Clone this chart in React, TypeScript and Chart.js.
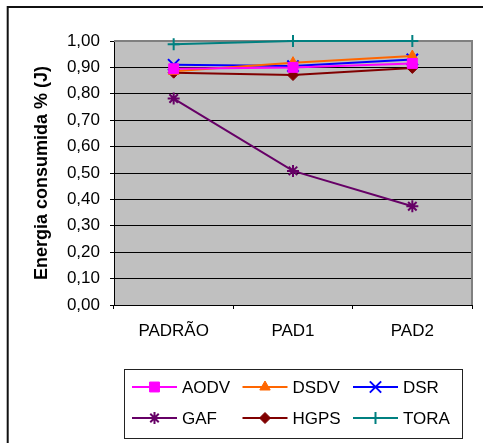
import React, { useEffect, useRef } from 'react';
import { Chart, registerables } from 'chart.js';
import { drawPoint } from 'chart.js/helpers';

Chart.register(...registerables);

const categories = ['PADRÃO', 'PAD1', 'PAD2'];
const seriesNames = ['AODV', 'DSDV', 'DSR', 'GAF', 'HGPS', 'TORA'];
const aodv = [0.895, 0.9, 0.915];
const dsdv = [0.885, 0.918, 0.943];
const dsr = [0.91, 0.905, 0.93];
const gaf = [0.782, 0.508, 0.374];
const hgps = [0.88, 0.871, 0.898];
const tora = [0.988, 1.0, 1.0];
const seriesValues = [aodv, dsdv, dsr, gaf, hgps, tora];
const seriesColors = ['#FF00FF', '#FF6600', '#0000FF', '#660066', '#800000', '#008080'];
const seriesMarkers = ['rect', 'triangle', 'crossRot', 'star', 'rectRot', 'cross'];
const markerRadius = [7, 6, 8, 6, 5.5, 6];
const yMin = 0;
const yMax = 1;
const yStep = 0.1;
const yTitle = 'Energia consumida % (J)';

const FONT = "'Liberation Sans', Arial, sans-serif";

const framePlugin = {
  id: 'frameAndBg',
  beforeDraw(chart: any) {
    const { ctx, chartArea } = chart;
    ctx.save();
    ctx.fillStyle = '#ffffff';
    ctx.fillRect(0, 0, chart.width, chart.height);
    ctx.strokeStyle = '#111111';
    ctx.lineWidth = 2;
    ctx.beginPath();
    ctx.moveTo(7.7, chart.height);
    ctx.lineTo(7.7, 7);
    ctx.lineTo(chart.width, 7);
    ctx.stroke();
    ctx.fillStyle = '#c0c0c0';
    ctx.fillRect(chartArea.left, chartArea.top, chartArea.right - chartArea.left, chartArea.bottom - chartArea.top);
    ctx.restore();
  },
  beforeDatasetsDraw(chart: any) {
    const { ctx, chartArea } = chart;
    ctx.save();
    ctx.strokeStyle = '#808080';
    ctx.lineWidth = 2;
    ctx.beginPath();
    ctx.moveTo(chartArea.left, chartArea.top);
    ctx.lineTo(chartArea.right, chartArea.top);
    ctx.lineTo(chartArea.right, chartArea.bottom);
    ctx.stroke();
    ctx.restore();
  },
};

const legendPlugin = {
  id: 'boxLegend',
  afterDraw(chart: any) {
    const { ctx } = chart;
    const bx = 124.5, by = 369.5, bw = 338, bh = 69;
    ctx.save();
    ctx.strokeStyle = '#222222';
    ctx.lineWidth = 1;
    ctx.strokeRect(bx, by, bw, bh);
    chart.data.datasets.forEach((ds: any, i: number) => {
      const col = i % 3;
      const row = Math.floor(i / 3);
      const x0 = 132 + col * 110.5;
      const y = 387 + row * 31;
      ctx.strokeStyle = ds.borderColor;
      ctx.lineWidth = 2;
      ctx.beginPath();
      ctx.moveTo(x0, y);
      ctx.lineTo(x0 + 45, y);
      ctx.stroke();
      ctx.fillStyle = ds.pointBackgroundColor;
      ctx.strokeStyle = ds.pointBorderColor;
      ctx.lineWidth = ds.pointBorderWidth;
      drawPoint(ctx, { pointStyle: ds.pointStyle, radius: ds.pointRadius, borderWidth: ds.pointBorderWidth, rotation: 0 }, x0 + 22.5, y);
      ctx.fillStyle = '#000000';
      ctx.font = `17px ${FONT}`;
      ctx.textBaseline = 'middle';
      ctx.textAlign = 'left';
      ctx.fillText(ds.label, x0 + 50, y + 1);
    });
    ctx.restore();
  },
};

export default function App() {
  const ref = useRef<HTMLCanvasElement | null>(null);
  useEffect(() => {
    if (!ref.current) return;
    const datasets = seriesNames.map((name, i) => {
      const filled = ['rect', 'triangle', 'rectRot'].includes(seriesMarkers[i]);
      return {
        label: name,
        data: seriesValues[i],
        borderColor: seriesColors[i],
        backgroundColor: seriesColors[i],
        borderWidth: 2,
        pointStyle: seriesMarkers[i],
        pointRadius: markerRadius[i],
        pointHoverRadius: markerRadius[i],
        pointBackgroundColor: seriesColors[i],
        pointBorderColor: seriesColors[i],
        pointBorderWidth: filled ? 1 : 2,
        tension: 0,
        fill: false,
        clip: false,
      };
    });
    const chart = new Chart(ref.current, {
      type: 'line',
      data: { labels: categories, datasets },
      options: {
        responsive: false,
        animation: false,
        events: [],
        layout: { padding: { top: 41, right: 11, bottom: 0, left: 0 } },
        plugins: { legend: { display: false }, tooltip: { enabled: false } },
        scales: {
          x: {
            type: 'category',
            offset: true,
            grid: { display: true, drawOnChartArea: false, drawTicks: true, tickLength: 4, offset: true, color: '#000000', lineWidth: 1 },
            border: { display: true, color: '#000000', width: 1 },
            ticks: { color: '#000000', padding: 12, maxRotation: 0, font: { family: FONT, size: 17 } },
            afterFit(scale: any) { scale.height = 138; },
          },
          y: {
            min: yMin,
            max: yMax,
            grid: { color: '#000000', lineWidth: 1, tickLength: 4, drawTicks: true },
            border: { display: true, color: '#000000', width: 1 },
            ticks: {
              stepSize: yStep,
              padding: 10,
              color: '#000000',
              font: { family: FONT, size: 17 },
              callback: (v: any) => Number(v).toFixed(2).replace('.', ','),
            },
            title: {
              display: true,
              text: yTitle,
              color: '#000000',
              font: { family: FONT, size: 18, weight: 'bold' },
              padding: { top: 31, bottom: 0 },
            },
            afterFit(scale: any) { scale.width = 114; },
          },
        },
      },
      plugins: [framePlugin, legendPlugin],
    });
    return () => chart.destroy();
  }, []);
  return (
    <div style={{ position: 'absolute', left: 0, top: 0, width: 483, height: 443 }}>
      <canvas ref={ref} width={483} height={443} style={{ display: 'block' }} />
    </div>
  );
}
